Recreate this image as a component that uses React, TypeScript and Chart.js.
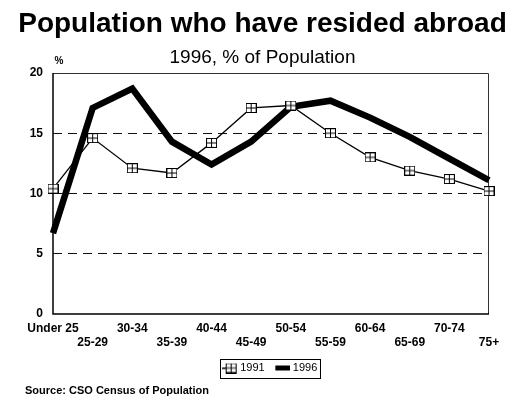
import React, { useEffect, useRef } from "react";
import { Chart, registerables } from "chart.js";

Chart.register(...registerables);

// Age groups on the category axis
const ageGroups = [
  "Under 25", "25-29", "30-34", "35-39", "40-44", "45-49",
  "50-54", "55-59", "60-64", "65-69", "70-74", "75+",
];

// Share of each age group that has lived abroad (%)
const share1991 = [10.4, 14.6, 12.1, 11.7, 14.2, 17.1, 17.3, 15.0, 13.0, 11.9, 11.2, 10.2];
const share1996 = [6.7, 17.1, 18.7, 14.3, 12.4, 14.3, 17.2, 17.7, 16.3, 14.7, 12.9, 11.1];

const seriesNames = ["1991", "1996"];

const FONT = '"Liberation Sans", Arial, Helvetica, sans-serif';

// Square marker with a cross inside, used for the 1991 series
function makeMarker(): HTMLCanvasElement {
  const c = document.createElement("canvas");
  c.width = 11;
  c.height = 10;
  const g = c.getContext("2d")!;
  g.fillStyle = "#fff";
  g.fillRect(0, 0, 11, 10);
  g.strokeStyle = "#000";
  g.lineWidth = 1;
  g.strokeRect(0.5, 0.5, 10, 9);
  g.beginPath();
  g.moveTo(5.5, 0.5);
  g.lineTo(5.5, 9.5);
  g.moveTo(0.5, 5);
  g.lineTo(10.5, 5);
  g.stroke();
  return c;
}

// Legend key: a short line with the marker, or a thick bar
function makeKey(withMarker: boolean, marker: HTMLCanvasElement): HTMLCanvasElement {
  const c = document.createElement("canvas");
  c.width = 16;
  c.height = 11;
  const g = c.getContext("2d")!;
  g.fillStyle = "#000";
  if (withMarker) {
    g.fillRect(0, 5, 8, 1.5);
    g.drawImage(marker, 4, 0.5);
  } else {
    g.fillRect(1, 3, 15, 5);
  }
  return c;
}

export default function App() {
  const ref = useRef<HTMLCanvasElement>(null);

  useEffect(() => {
    const canvas = ref.current;
    if (!canvas) return;
    const marker = makeMarker();
    const keys = [makeKey(true, marker), makeKey(false, marker)];

    const decorations = {
      id: "decorations",
      beforeDatasetsDraw(chart: Chart) {
        const { ctx, chartArea: a } = chart;
        ctx.save();
        ctx.strokeStyle = "#333";
        ctx.lineWidth = 1;
        ctx.beginPath();
        ctx.moveTo(a.left, a.top + 0.5);
        ctx.lineTo(a.right - 0.5, a.top + 0.5);
        ctx.lineTo(a.right - 0.5, a.bottom);
        ctx.stroke();
        ctx.strokeStyle = "#000";
        ctx.lineWidth = 1.5;
        ctx.beginPath();
        ctx.moveTo(a.left, a.top);
        ctx.lineTo(a.left, a.bottom);
        ctx.lineTo(a.right, a.bottom);
        ctx.stroke();
        ctx.restore();
      },
      afterDraw(chart: Chart) {
        const { ctx, chartArea: a } = chart;
        ctx.save();
        ctx.fillStyle = "#000";
        ctx.textBaseline = "middle";
        ctx.textAlign = "center";
        ctx.font = `bold 10px ${FONT}`;
        ctx.fillText("%", a.left + 6, 61);
        ctx.textAlign = "left";
        ctx.font = `bold 11px ${FONT}`;
        ctx.fillText("Source: CSO Census of Population", 25, 391);

        // frame around the legend entries
        const boxes = (chart.legend as any)?.legendHitBoxes as
          | { left: number; top: number; width: number; height: number }[]
          | undefined;
        if (boxes && boxes.length) {
          const l = Math.min(...boxes.map((b) => b.left)) - 5;
          const r = Math.max(...boxes.map((b) => b.left + b.width)) + 2;
          const t = Math.min(...boxes.map((b) => b.top)) - 4;
          const btm = Math.max(...boxes.map((b) => b.top + b.height)) + 4;
          ctx.strokeStyle = "#000";
          ctx.lineWidth = 1;
          ctx.strokeRect(Math.round(l) + 0.5, Math.round(t) + 0.5, Math.round(r - l), Math.round(btm - t));
        }
        ctx.restore();
      },
    };

    const chart = new Chart(canvas, {
      type: "line",
      data: {
        labels: ageGroups.map((g, i) => (i % 2 === 0 ? [g, ""] : ["", g])),
        datasets: [
          {
            label: seriesNames[0],
            data: share1991,
            borderColor: "#000",
            backgroundColor: "#000",
            borderWidth: 1.3,
            pointStyle: marker as any,
            pointRadius: 5,
            tension: 0,
            clip: false as any,
          },
          {
            label: seriesNames[1],
            data: share1996,
            borderColor: "#000",
            backgroundColor: "#000",
            borderWidth: 6.5,
            pointRadius: 0,
            pointHoverRadius: 0,
            borderJoinStyle: "miter",
            borderCapStyle: "butt",
            tension: 0,
            clip: false as any,
          },
        ],
      },
      options: {
        animation: false,
        responsive: true,
        maintainAspectRatio: false,
        events: [],
        layout: { padding: { top: 0, left: 0, right: 0, bottom: 16.5 } },
        scales: {
          x: {
            offset: false,
            grid: { display: false, drawTicks: false, tickLength: 0 },
            border: { display: false },
            ticks: {
              autoSkip: false,
              maxRotation: 0,
              minRotation: 0,
              padding: 7,
              color: "#000",
              font: { family: FONT, size: 12, weight: "bold" },
            },
            afterFit: (s: any) => {
              s.height = 35.8;
              s.paddingRight = 36;
            },
          },
          y: {
            min: 0,
            max: 20,
            grid: {
              drawTicks: false,
              tickLength: 0,
              lineWidth: 1,
              color: (c: any) =>
                c.tick && (c.tick.value === 0 || c.tick.value === 20) ? "rgba(0,0,0,0)" : "#111",
            },
            border: { display: false, dash: [9, 6] },
            ticks: {
              stepSize: 5,
              padding: 10,
              color: "#000",
              font: { family: FONT, size: 12, weight: "bold" },
            },
            afterFit: (s: any) => {
              s.width = 53;
            },
          },
        },
        plugins: {
          title: {
            display: true,
            text: "Population who have resided abroad",
            color: "#000",
            font: { family: FONT, size: 28, weight: "bold" },
            padding: { top: 7, bottom: 0 },
          },
          subtitle: {
            display: true,
            text: "1996, % of Population",
            color: "#000",
            font: { family: FONT, size: 19, weight: "normal" },
            padding: { top: 6, bottom: 3.6 },
          },
          legend: {
            display: true,
            position: "bottom",
            fullSize: false,
            labels: {
              usePointStyle: true,
              pointStyleWidth: 10,
              boxHeight: 11,
              padding: 12.7,
              color: "#000",
              font: { family: FONT, size: 11 },
              generateLabels: (ch: Chart) =>
                Chart.defaults.plugins.legend.labels
                  .generateLabels(ch)
                  .map((item: any, i: number) => ({ ...item, pointStyle: keys[i] })),
            },
          },
          tooltip: { enabled: false },
        },
      },
      plugins: [decorations],
    });

    return () => chart.destroy();
  }, []);

  return (
    <div style={{ position: "fixed", left: 0, top: 0, width: 525, height: 400, background: "#fff" }}>
      <canvas ref={ref} />
    </div>
  );
}
